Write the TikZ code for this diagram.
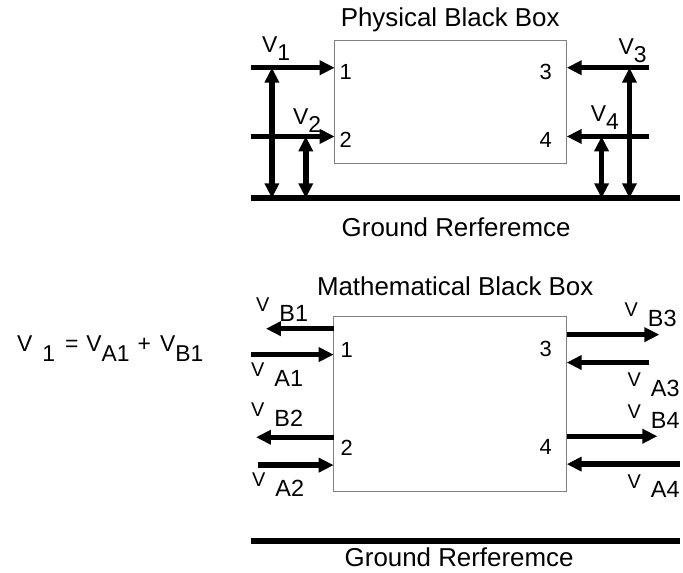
\documentclass[tikz,border=0pt]{standalone}
\usepackage{fontspec}
\setmainfont{Liberation Sans}
\usetikzlibrary{arrows.meta,positioning}

\newcommand{\vphys}[1]{V\raisebox{-8pt}{#1}}
\newcommand{\vmath}[1]{{\fontsize{20}{20}\selectfont V}\hspace{10pt}\raisebox{-10pt}{#1}}

\begin{document}
\begin{tikzpicture}[x=1pt, y=-1pt,
bbox/.style={draw=gray, line width=0.9pt, inner sep=0pt, outer sep=0pt},
wire/.style={line width=5.5pt, -{Triangle[length=15pt,width=14pt]}},
twoway/.style={line width=5.5pt, {Triangle[length=15pt,width=14pt]}-{Triangle[length=15pt,width=14pt]}},
gnd/.style={line width=5.5pt},
title/.style={font=\fontsize{26}{30}\selectfont, anchor=base, inner sep=0pt},
portnum/.style={font=\fontsize{22}{26}\selectfont, anchor=base, inner sep=0pt},
vlab/.style={font=\fontsize{23}{26}\selectfont, anchor=base west, inner sep=0pt},
mlab/.style={font=\fontsize{23.5}{26}\selectfont, anchor=base west, inner sep=0pt}
]
\fill[white] (0,0) rectangle (683,575);

% physical black box
\node[bbox, minimum width=233pt, minimum height=123pt] (pbox) at (452.5,102.5) {};
\node[title] (ptitle) at (452,27) {Physical Black Box};
\node[portnum] (pn1) at (347,80) {1};
\node[portnum] (pn2) at (347,148) {2};
\node[portnum] (pn3) at (548,80) {3};
\node[portnum] (pn4) at (548,148) {4};

\coordinate (pa1) at (252,68);
\coordinate (pa2) at (252,137);
\coordinate (pa3) at (652,68);
\coordinate (pa4) at (652,137);
\coordinate (pgl) at (252,199);
\coordinate (pgr) at (683,199);

\draw[wire] (pa1) -- (pa1 -| pbox.west);
\draw[wire] (pa2) -- (pa2 -| pbox.west);
\draw[wire] (pa3) -- (pa3 -| pbox.east);
\draw[wire] (pa4) -- (pa4 -| pbox.east);
\draw[gnd] (pgl) -- (pgr);

\coordinate (pv1) at (273,68);
\coordinate (pv2) at (307,137);
\coordinate (pv4) at (604,137);
\coordinate (pv3) at (632,68);
\draw[twoway] (pv1) -- (pv1 |- pgl);
\draw[twoway] (pv2) -- (pv2 |- pgl);
\draw[twoway] (pv4) -- (pv4 |- pgl);
\draw[twoway] (pv3) -- (pv3 |- pgl);

\node[vlab] (lv1) at (263,53) {\vphys{1}};
\node[vlab] (lv2) at (294,125) {\vphys{2}};
\node[vlab] (lv3) at (621,55) {\vphys{3}};
\node[vlab] (lv4) at (593,122) {\vphys{4}};

\node[title] (pground) at (458,237) {Ground Rerferemce};

% mathematical black box
\node[bbox, minimum width=234pt, minimum height=175pt] (mbox) at (452,405.5) {};
\node[title] (mtitle) at (457,297) {Mathematical Black Box};
\node[portnum] (mn1) at (348,359) {1};
\node[portnum] (mn2) at (348,457) {2};
\node[portnum] (mn3) at (548,358) {3};
\node[portnum] (mn4) at (548,456) {4};

\coordinate (mb1) at (267,330);
\coordinate (ma1) at (252,356);
\coordinate (mb2) at (257,439);
\coordinate (ma2) at (259,467);
\coordinate (mb3) at (662,336);
\coordinate (ma3) at (652,364);
\coordinate (mb4) at (660,438);
\coordinate (ma4) at (683,466);
\coordinate (mgl) at (252,543);
\coordinate (mgr) at (683,543);

\draw[wire] (mb1 -| mbox.west) -- (mb1);
\draw[wire] (ma1) -- (ma1 -| mbox.west);
\draw[wire] (mb2 -| mbox.west) -- (mb2);
\draw[wire] (ma2) -- (ma2 -| mbox.west);
\draw[wire] (mb3 -| mbox.east) -- (mb3);
\draw[wire] (ma3) -- (ma3 -| mbox.east);
\draw[wire] (mb4 -| mbox.east) -- (mb4);
\draw[wire] (ma4) -- (ma4 -| mbox.east);
\draw[gnd] (mgl) -- (mgr);

\node[mlab] (lb1) at (257,313) {\vmath{B1}};
\node[mlab] (la1) at (252,378) {\vmath{A1}};
\node[mlab] (lb2) at (252,418) {\vmath{B2}};
\node[mlab] (la2) at (253,488) {\vmath{A2}};
\node[mlab] (lb3) at (627,318) {\vmath{B3}};
\node[mlab] (la3) at (630,388) {\vmath{A3}};
\node[mlab] (lb4) at (630,420) {\vmath{B4}};
\node[mlab] (la4) at (630,490) {\vmath{A4}};

\node[vlab] (eqn) at (17,353) {V\hspace{10pt}\raisebox{-10pt}{1}\hspace{10pt}=\hspace{8pt}V\raisebox{-10pt}{A1}\hspace{8pt}+\hspace{9pt}V\raisebox{-10pt}{B1}};

\node[title] (mground) at (461,569) {Ground Rerferemce};
\end{tikzpicture}
\end{document}
